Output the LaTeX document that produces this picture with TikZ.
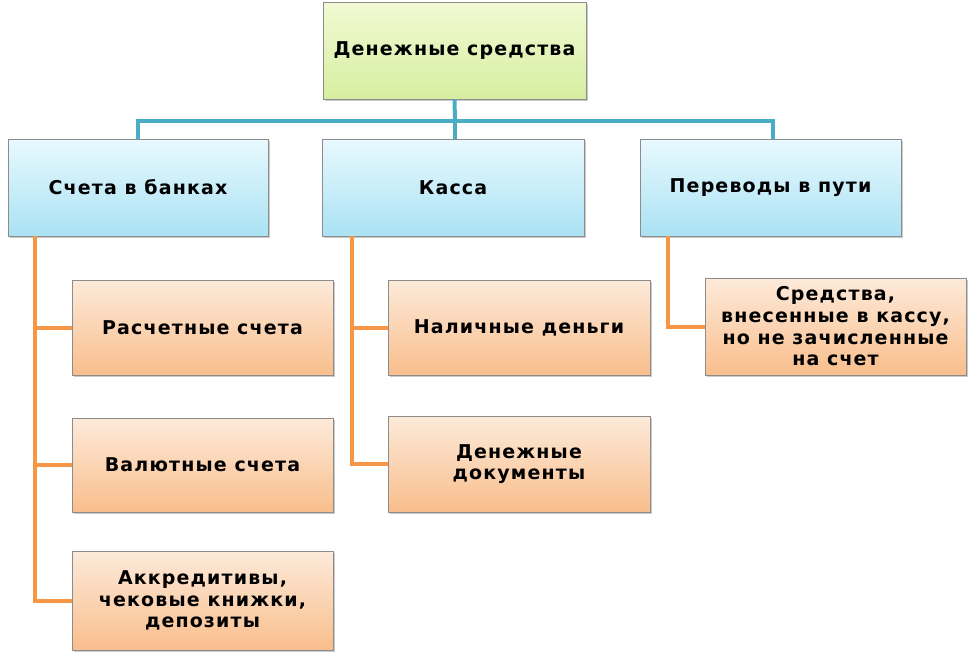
\documentclass[tikz,border=0pt]{standalone}
\usepackage{fontspec}
\setmainfont{DejaVu Sans}
\newfontfamily\boxfont[LetterSpace=6]{DejaVu Sans}
\usetikzlibrary{shadows}
\definecolor{teal1}{HTML}{4BACC6}
\definecolor{orange1}{HTML}{F79646}
\definecolor{bordergray}{HTML}{8C8C8C}
\tikzset{
  basebox/.style={rectangle, draw=bordergray, line width=0.8pt, align=center,
    font=\boxfont\fontsize{19}{21.7}\selectfont\bfseries, text=black, inner sep=2pt,
    drop shadow={shadow xshift=1.5pt, shadow yshift=-1.5pt, fill=black!35, opacity=0.6}},
  greenbox/.style={basebox, top color={rgb,255:red,242;green,250;blue,212}, bottom color={rgb,255:red,214;green,238;blue,160}},
  bluebox/.style={basebox, top color={rgb,255:red,232;green,249;blue,254}, bottom color={rgb,255:red,170;green,226;blue,244}},
  orangebox/.style={basebox, top color={rgb,255:red,253;green,234;blue,218}, bottom color={rgb,255:red,249;green,190;blue,140}},
  tealline/.style={draw=teal1, line width=4pt},
  orangeline/.style={draw=orange1, line width=4pt},
}
\begin{document}
\begin{tikzpicture}[x=1pt, y=-1pt]
\useasboundingbox (0,0) rectangle (973,657);
\coordinate (bus) at (455,121);
\node[greenbox, minimum width=263pt, minimum height=97pt] (top) at (454.5,50.5) {Денежные средства};
\node[bluebox, minimum width=260pt, minimum height=97pt] (a) at (138,187.5) {Счета в банках};
\node[bluebox, minimum width=262pt, minimum height=97pt] (b) at (453,187.5) {Касса};
\node[bluebox, minimum width=261pt, minimum height=97pt] (c) at (770.5,187.5) {Переводы в пути};
\node[orangebox, minimum width=261pt, minimum height=95pt] (a1) at (202.5,327.5) {Расчетные счета};
\node[orangebox, minimum width=261pt, minimum height=94pt] (a2) at (202.5,465) {Валютные счета};
\node[orangebox, minimum width=261pt, minimum height=99pt] (a3) at (202.5,600.5) {Аккредитивы,\\чековые книжки,\\депозиты};
\node[orangebox, minimum width=262pt, minimum height=95pt] (b1) at (519,327.5) {Наличные деньги};
\node[orangebox, minimum width=262pt, minimum height=96pt] (b2) at (519,464) {Денежные\\документы};
\node[orangebox, minimum width=261pt, minimum height=97pt] (c1) at (835.5,326.5) {Средства,\\внесенные в кассу,\\но не зачисленные\\на счет};
\coordinate (ta) at ([xshift=27pt]a.south west);
\coordinate (tb) at ([xshift=30pt]b.south west);
\coordinate (tc) at ([xshift=28pt]c.south west);
\draw[tealline] (top.south) -- (bus);
\draw[tealline] (bus) -- (b.north -| bus);
\draw[tealline] (a.north) -- (a.north |- bus) -- (bus);
\draw[tealline] (bus) -- ([xshift=2.5pt]c.north |- bus) -- ([xshift=2.5pt]c.north);
\draw[orangeline] (ta) |- (a1.west);
\draw[orangeline] (ta) |- (a2.west);
\draw[orangeline] (ta) |- (a3.west);
\draw[orangeline] (tb) |- (b1.west);
\draw[orangeline] (tb) |- (b2.west);
\draw[orangeline] (tc) |- (c1.west);
\end{tikzpicture}
\end{document}
